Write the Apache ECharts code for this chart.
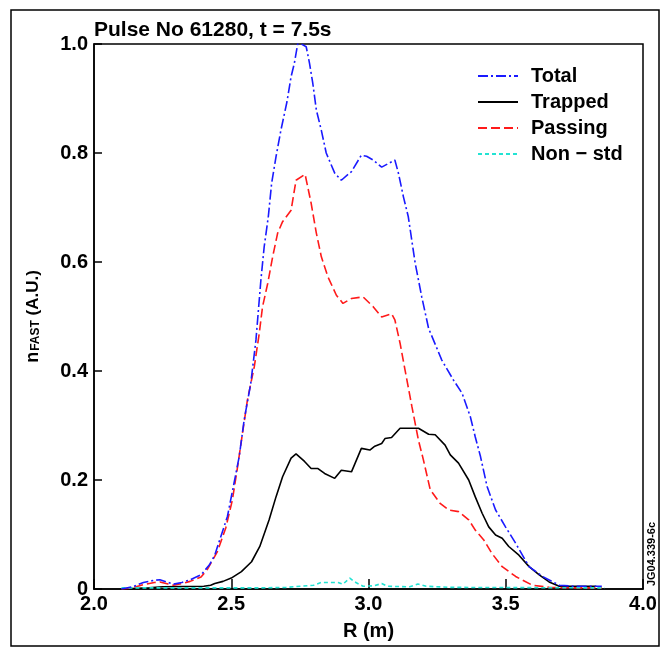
<!DOCTYPE html>
<html>
<head>
<meta charset="utf-8">
<script src="https://cdn.jsdelivr.net/npm/echarts@6/dist/echarts.min.js"></script>
<style>html,body{margin:0;padding:0;background:#fff}#c{width:664px;height:648px}</style>
</head>
<body>
<div id="c"></div>
<script>
const xTicks = ['2.0','2.5','3.0','3.5','4.0'];
const yTicks = ['0','0.2','0.4','0.6','0.8','1.0'];
const seriesNames = ['Total','Trapped','Passing','Non \u2212 std'];

const totalR = [2.10,2.14,2.18,2.22,2.24,2.27,2.29,2.32,2.35,2.39,2.42,2.44,2.45,2.486,2.51,2.529,2.547,2.571,2.59,2.598,2.608,2.62,2.635,2.647,2.663,2.681,2.703,2.718,2.730,2.742,2.755,2.773,2.785,2.797,2.81,2.828,2.846,2.877,2.901,2.938,2.974,2.993,3.017,3.048,3.096,3.109,3.127,3.145,3.17,3.194,3.219,3.267,3.31,3.341,3.371,3.389,3.408,3.432,3.463,3.499,3.536,3.585,3.634,3.695,3.75,3.85];
const totalV = [0.0,0.004,0.012,0.016,0.017,0.012,0.009,0.012,0.017,0.026,0.044,0.062,0.078,0.133,0.194,0.243,0.31,0.377,0.457,0.506,0.567,0.628,0.683,0.744,0.793,0.842,0.894,0.94,0.965,1.0,1.0,0.995,0.965,0.928,0.879,0.842,0.80,0.763,0.75,0.766,0.796,0.794,0.787,0.774,0.787,0.763,0.72,0.683,0.598,0.536,0.478,0.42,0.383,0.359,0.316,0.279,0.243,0.188,0.145,0.114,0.084,0.041,0.023,0.007,0.005,0.005];

const trappedR = [2.10,2.20,2.25,2.40,2.425,2.44,2.47,2.50,2.537,2.574,2.604,2.638,2.663,2.687,2.718,2.736,2.767,2.791,2.816,2.84,2.877,2.901,2.938,2.974,3.005,3.023,3.048,3.06,3.084,3.115,3.182,3.219,3.243,3.279,3.298,3.328,3.365,3.389,3.414,3.438,3.463,3.487,3.511,3.548,3.585,3.622,3.658,3.695,3.83];
const trappedV = [0,0.002,0.004,0.005,0.007,0.01,0.014,0.02,0.032,0.05,0.078,0.127,0.169,0.206,0.24,0.248,0.234,0.221,0.221,0.212,0.203,0.218,0.215,0.258,0.255,0.262,0.267,0.276,0.278,0.295,0.295,0.284,0.283,0.264,0.246,0.231,0.2,0.169,0.139,0.114,0.099,0.093,0.078,0.062,0.041,0.026,0.013,0.005,0.005];

const passingR = [2.10,2.14,2.18,2.22,2.24,2.27,2.29,2.32,2.35,2.39,2.413,2.449,2.48,2.504,2.523,2.541,2.559,2.584,2.602,2.614,2.633,2.651,2.669,2.687,2.718,2.736,2.769,2.791,2.81,2.828,2.852,2.883,2.907,2.938,2.98,3.017,3.048,3.084,3.096,3.115,3.133,3.158,3.182,3.2,3.225,3.261,3.292,3.328,3.365,3.389,3.42,3.45,3.487,3.536,3.597,3.658,3.75,3.85];
const passingV = [0,0.002,0.008,0.012,0.013,0.009,0.007,0.01,0.014,0.022,0.036,0.068,0.112,0.163,0.224,0.286,0.347,0.408,0.469,0.518,0.561,0.61,0.653,0.674,0.695,0.75,0.761,0.708,0.653,0.61,0.573,0.539,0.524,0.533,0.536,0.518,0.499,0.505,0.494,0.451,0.402,0.335,0.273,0.237,0.182,0.157,0.145,0.142,0.127,0.108,0.09,0.065,0.041,0.023,0.007,0.003,0.002,0.002];

const nonstdR = [2.10,2.60,2.70,2.80,2.828,2.889,2.907,2.932,2.95,2.98,3.02,3.048,3.07,3.15,3.18,3.21,3.30,3.86];
const nonstdV = [0.002,0.002,0.003,0.007,0.012,0.012,0.009,0.02,0.013,0.005,0.006,0.01,0.005,0.004,0.009,0.005,0.003,0.002];

const zip = (a, b) => a.map((x, i) => [x, b[i]]);
const FONT = "'Liberation Sans', Arial, sans-serif";

const chart = echarts.init(document.getElementById('c'), null, {renderer: 'canvas'});
chart.setOption({
  animation: false,
  backgroundColor: '#fff',
  title: {
    text: 'Pulse No 61280, t = 7.5s',
    left: 89, top: 15,
    textStyle: {fontFamily: FONT, fontWeight: 'bold', fontSize: 21, color: '#000'}
  },
  legend: {
    orient: 'vertical',
    left: 472, top: 61,
    itemWidth: 40, itemHeight: 14, itemGap: 6,
    icon: 'inherit',
    itemStyle: {opacity: 0},
    data: seriesNames,
    textStyle: {fontFamily: FONT, fontWeight: 'bold', fontSize: 20, color: '#000', padding: [0,0,0,8], lineHeight: 20}
  },
  grid: {left: 94, top: 44, width: 549, height: 545, show: true, borderColor: '#000', borderWidth: 1.5},
  xAxis: {
    type: 'value', min: 2, max: 4, interval: 0.5,
    name: 'R (m)', nameLocation: 'middle', nameGap: 32,
    nameTextStyle: {fontFamily: FONT, fontWeight: 'bold', fontSize: 20, color: '#000'},
    axisLine: {show: true, lineStyle: {color: '#000', width: 1.5}},
    axisTick: {inside: true, length: 10, lineStyle: {color: '#000', width: 1.5}},
    splitLine: {show: false},
    axisLabel: {margin: 5, fontFamily: FONT, fontWeight: 'bold', fontSize: 20, color: '#000',
      formatter: v => xTicks[Math.round((v - 2) / 0.5)]}
  },
  yAxis: {
    type: 'value', min: 0, max: 1, interval: 0.2,
    name: '{n|n}{s|FAST} (A.U.)', nameLocation: 'middle', nameGap: 52,
    nameTextStyle: {fontFamily: FONT, fontWeight: 'bold', fontSize: 17, color: '#000',
      rich: {
        n: {fontFamily: FONT, fontWeight: 'bold', fontSize: 18, color: '#000'},
        s: {fontFamily: FONT, fontWeight: 'bold', fontSize: 12, color: '#000', padding: [6,0,0,1]}
      }},
    axisLine: {show: true, lineStyle: {color: '#000', width: 1.5}},
    axisTick: {inside: true, length: 8, lineStyle: {color: '#000', width: 1.5}},
    splitLine: {show: false},
    axisLabel: {margin: 6, fontFamily: FONT, fontWeight: 'bold', fontSize: 20, color: '#000',
      formatter: v => yTicks[Math.round(v / 0.2)]}
  },
  series: [
    {name: seriesNames[1], type: 'line', data: zip(trappedR, trappedV), symbol: 'none', z: 3,
      lineStyle: {color: '#000', width: 1.6, type: 'solid'}, itemStyle: {color: '#000'}},
    {name: seriesNames[2], type: 'line', data: zip(passingR, passingV), symbol: 'none', z: 4,
      lineStyle: {color: '#ff1a1a', width: 1.6, type: [9, 4]}, itemStyle: {color: '#ff1a1a'}},
    {name: seriesNames[3], type: 'line', data: zip(nonstdR, nonstdV), symbol: 'none', z: 5,
      lineStyle: {color: '#22e3d3', width: 1.6, type: [4, 3]}, itemStyle: {color: '#22e3d3'}},
    {name: seriesNames[0], type: 'line', data: zip(totalR, totalV), symbol: 'none', z: 6,
      lineStyle: {color: '#1a1aff', width: 1.6, type: [10, 3, 2, 3]}, itemStyle: {color: '#1a1aff'}}
  ],
  graphic: [
    {type: 'rect', shape: {x: 11, y: 10, width: 648, height: 636}, style: {fill: 'none', stroke: '#000', lineWidth: 1.5}, silent: true},
    {type: 'text', x: 652, y: 554, rotation: Math.PI / 2,
      style: {text: 'JG04.339-6c', fontFamily: FONT, fontWeight: 'bold', fontSize: 11, fill: '#000', align: 'center', verticalAlign: 'middle'}}
  ]
});
</script>
</body>
</html>
